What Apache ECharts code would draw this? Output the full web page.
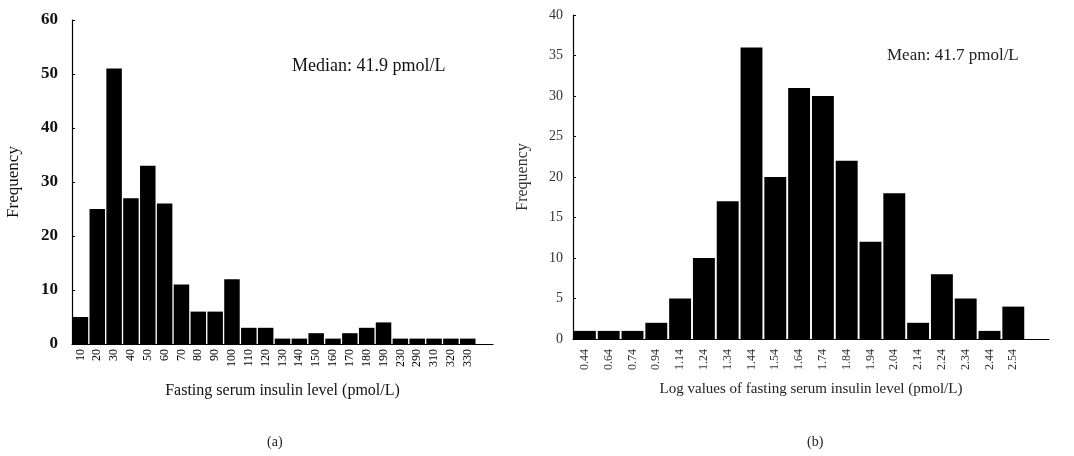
<!DOCTYPE html>
<html><head><meta charset="utf-8">
<script src="https://cdn.jsdelivr.net/npm/echarts@6/dist/echarts.min.js"></script>
<style>html,body{margin:0;padding:0;background:#fff}#c{width:1074px;height:456px}</style>
</head><body><div id="c"></div>
<script>
const catsA = ['10','20','30','40','50','60','70','80','90','100','110','120','130','140','150','160','170','180','190','230','290','310','320','330',''];
const valsA = [5,25,51,27,33,26,11,6,6,12,3,3,1,1,2,1,2,3,4,1,1,1,1,1,null];
const catsB = ['0.44','0.64','0.74','0.94','1.14','1.24','1.34','1.44','1.54','1.64','1.74','1.84','1.94','2.04','2.14','2.24','2.34','2.44','2.54',''];
const valsB = [1,1,1,2,5,10,17,36,20,31,30,22,12,18,2,8,5,1,4,null];
const ticksA = [0,10,20,30,40,50,60];
const ticksB = [0,5,10,15,20,25,30,35,40];

const serif = '"Liberation Serif","DejaVu Serif",serif';
const chart = echarts.init(document.getElementById('c'));
chart.setOption({
  animation:false,
  backgroundColor:'#fff',
  textStyle:{fontFamily:serif},
  title:[
    {text:'Median: 41.9 pmol/L',left:287,top:52,textStyle:{fontFamily:serif,fontSize:18,fontWeight:'normal',color:'#111'}},
    {text:'Mean: 41.7 pmol/L',left:882,top:42,textStyle:{fontFamily:serif,fontSize:17,fontWeight:'normal',color:'#222'}},
    {text:'(a)',left:262,top:430,textStyle:{fontFamily:serif,fontSize:14,fontWeight:'normal',color:'#222'}},
    {text:'(b)',left:802,top:430,textStyle:{fontFamily:serif,fontSize:14,fontWeight:'normal',color:'#222'}}
  ],
  grid:[
    {left:72,top:20,width:421,height:324},
    {left:573,top:15,width:476,height:324}
  ],
  xAxis:[
    {type:'category',gridIndex:0,data:catsA,
     name:'Fasting serum insulin level (pmol/L)',nameLocation:'middle',nameGap:39,
     nameTextStyle:{fontFamily:serif,fontSize:16,color:'#111'},
     axisLine:{lineStyle:{color:'#000',width:1.2}},
     axisTick:{alignWithLabel:false,length:3,lineStyle:{color:'#000'}},
     axisLabel:{rotate:90,interval:0,fontFamily:serif,fontSize:12,color:'#000',margin:5}},
    {type:'category',gridIndex:1,data:catsB,
     name:'Log values of fasting serum insulin level (pmol/L)',nameLocation:'middle',nameGap:43,
     nameTextStyle:{fontFamily:serif,fontSize:15,color:'#222'},
     axisLine:{lineStyle:{color:'#000',width:1.2}},
     axisTick:{alignWithLabel:false,length:3,lineStyle:{color:'#000'}},
     axisLabel:{rotate:90,interval:0,fontFamily:serif,fontSize:12,color:'#333',margin:10}}
  ],
  yAxis:[
    {type:'value',gridIndex:0,min:0,max:60,interval:10,
     name:'Frequency',nameLocation:'middle',nameGap:50,
     nameTextStyle:{fontFamily:serif,fontSize:17,color:'#111'},
     axisLine:{show:true,lineStyle:{color:'#000',width:1.2}},
     axisTick:{show:true,inside:true,length:3,lineStyle:{color:'#000'}},
     splitLine:{show:false},
     axisLabel:{fontFamily:serif,fontSize:17,fontWeight:'bold',color:'#111',margin:14,
       formatter:v=>ticksA.includes(v)?String(v):''}},
    {type:'value',gridIndex:1,min:0,max:40,interval:5,
     name:'Frequency',nameLocation:'middle',nameGap:42,
     nameTextStyle:{fontFamily:serif,fontSize:16,color:'#333'},
     axisLine:{show:true,lineStyle:{color:'#000',width:1.2}},
     axisTick:{show:true,inside:true,length:3,lineStyle:{color:'#000'}},
     splitLine:{show:false},
     axisLabel:{fontFamily:serif,fontSize:14,color:'#333',margin:10,
       formatter:v=>ticksB.includes(v)?String(v):''}}
  ],
  series:[
    {type:'bar',xAxisIndex:0,yAxisIndex:0,data:valsA,barCategoryGap:'8%',
     itemStyle:{color:'#000'}},
    {type:'bar',xAxisIndex:1,yAxisIndex:1,data:valsB,barCategoryGap:'8%',
     itemStyle:{color:'#000'}}
  ]
});
</script></body></html>
